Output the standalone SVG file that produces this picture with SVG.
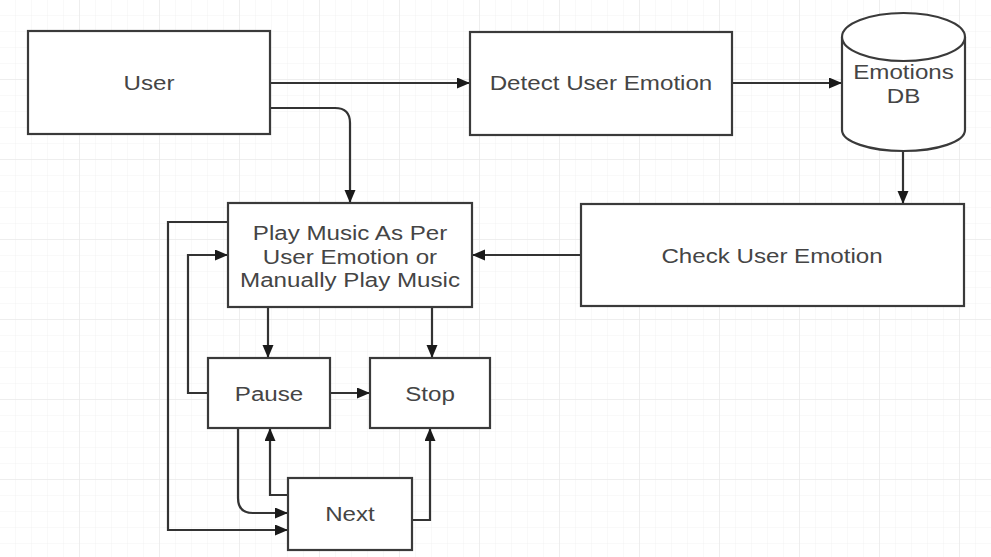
<svg xmlns="http://www.w3.org/2000/svg" width="991" height="557" viewBox="0 0 991 557">
<defs>
<style>
.box{fill:#ffffff;stroke:#3a3a3a;stroke-width:2.2}
.lbl{font-family:"Liberation Sans",Arial,sans-serif;font-size:21px;fill:#454545;text-anchor:middle}
.conn{fill:none;stroke:#333333;stroke-width:2.2}
</style>
<pattern id="grid" width="16" height="16" patternUnits="userSpaceOnUse">
<path d="M16 0V16M0 16H16" fill="none" stroke="#f2f2f2" stroke-width="1"/>
</pattern>
<pattern id="gridMajor" width="80" height="80" patternUnits="userSpaceOnUse">
<path d="M80 0V80M0 80H80" fill="none" stroke="#eaeaea" stroke-width="1.5"/>
</pattern>
<marker id="arr" markerUnits="userSpaceOnUse" markerWidth="14" markerHeight="12" refX="13" refY="5.5" orient="auto">
<path d="M0,0 L13,5.5 L0,11 z" fill="#1a1a1a"/>
</marker>
</defs>
<rect width="991" height="557" fill="#ffffff"/>
<rect width="991" height="557" fill="url(#grid)"/>
<rect width="991" height="557" fill="url(#gridMajor)"/>

<g id="connectors">
<path class="conn" d="M270 83H470" marker-end="url(#arr)"/>
<path class="conn" d="M270 108H335Q350 108 350 123V203" marker-end="url(#arr)"/>
<path class="conn" d="M732 83H842" marker-end="url(#arr)"/>
<path class="conn" d="M903 151V204" marker-end="url(#arr)"/>
<path class="conn" d="M581 255H472" marker-end="url(#arr)"/>
<path class="conn" d="M268 307V358" marker-end="url(#arr)"/>
<path class="conn" d="M432 307V358" marker-end="url(#arr)"/>
<path class="conn" d="M330 393H370" marker-end="url(#arr)"/>
<path class="conn" d="M208 393H188V255H228" marker-end="url(#arr)"/>
<path class="conn" d="M228 222H168V530H288" marker-end="url(#arr)"/>
<path class="conn" d="M238 428V498Q238 513 253 513H288" marker-end="url(#arr)"/>
<path class="conn" d="M288 495H270V428" marker-end="url(#arr)"/>
<path class="conn" d="M412 520H430V428" marker-end="url(#arr)"/>
</g>

<g id="user">
<rect class="box" x="28" y="31" width="242" height="103"/>
<text class="lbl" transform="translate(149 90) scale(1.15 1)">User</text>
</g>
<g id="detect">
<rect class="box" x="470" y="32" width="262" height="103"/>
<text class="lbl" transform="translate(601 90) scale(1.15 1)">Detect User Emotion</text>
</g>
<g id="emotionsdb">
<path class="box" d="M842 37A61.5 24 0 0 1 965 37V130A61.5 21 0 0 1 842 130Z"/>
<path class="box" d="M842 37A61.5 24 0 0 0 965 37" fill="none"/>
<text class="lbl" transform="translate(903.5 79) scale(1.15 1)">Emotions</text>
<text class="lbl" transform="translate(903.5 103) scale(1.15 1)">DB</text>
</g>
<g id="check">
<rect class="box" x="581" y="204" width="383" height="102"/>
<text class="lbl" transform="translate(772 263) scale(1.15 1)">Check User Emotion</text>
</g>
<g id="play">
<rect class="box" x="228" y="203" width="244" height="104"/>
<text class="lbl" transform="translate(350 240) scale(1.15 1)">Play Music As Per</text>
<text class="lbl" transform="translate(350 263.5) scale(1.15 1)">User Emotion or</text>
<text class="lbl" transform="translate(350 287) scale(1.15 1)">Manually Play Music</text>
</g>
<g id="pause">
<rect class="box" x="208" y="358" width="122" height="70"/>
<text class="lbl" transform="translate(269 401) scale(1.15 1)">Pause</text>
</g>
<g id="stop">
<rect class="box" x="370" y="358" width="120" height="70"/>
<text class="lbl" transform="translate(430 401) scale(1.15 1)">Stop</text>
</g>
<g id="next">
<rect class="box" x="288" y="478" width="124" height="72"/>
<text class="lbl" transform="translate(350 521) scale(1.15 1)">Next</text>
</g>
</svg>
